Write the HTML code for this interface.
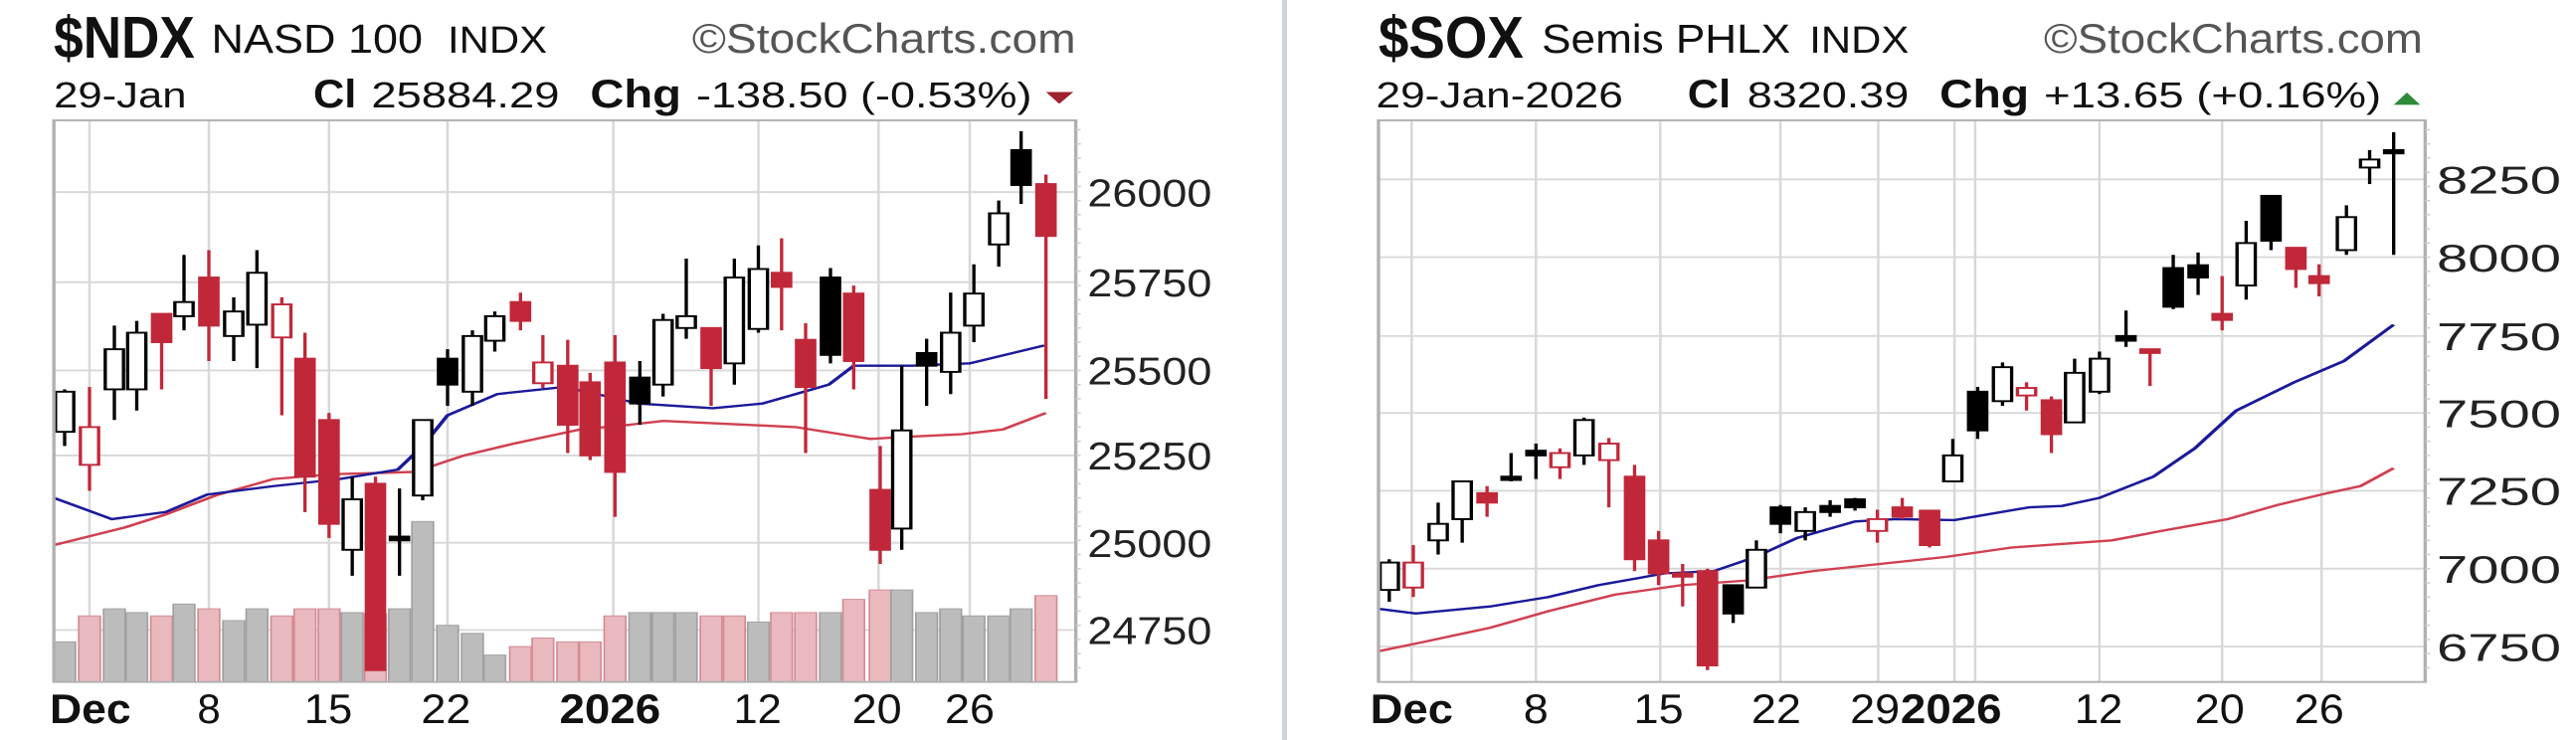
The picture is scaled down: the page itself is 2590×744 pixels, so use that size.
<!DOCTYPE html>
<html><head><meta charset="utf-8"><style>
html,body{margin:0;padding:0;background:#fff;width:2590px;height:744px;overflow:hidden}
svg{position:absolute;top:0}
text{font-family:"Liberation Sans",sans-serif}
</style></head><body>
<svg id="L" style="left:0" width="1300" height="744" viewBox="0 0 1560 1568" preserveAspectRatio="none"></svg>
<div style="position:absolute;left:1289px;top:0;width:5px;height:744px;background:#cfd3da"></div>
<svg id="R" style="left:1296px" width="1294" height="744" viewBox="7 0 1553 1568" preserveAspectRatio="none"></svg>
<script>
const NS="http://www.w3.org/2000/svg";
function el(svg,tag,attrs,txt){const e=document.createElementNS(NS,tag);for(const k in attrs)e.setAttribute(k,attrs[k]);if(txt!==undefined)e.textContent=txt;svg.appendChild(e);return e;}
const RED="#c0283a";
function panel(svg,cfg){
  const [x0,y0,x1,y1]=cfg.box;
  el(svg,"rect",{x:x0,y:y0,width:x1-x0,height:y1-y0,fill:"#fff"});
  cfg.hgrid.forEach(g=>{el(svg,"line",{x1:x0,x2:x1,y1:g[1],y2:g[1],stroke:"#d8d8d8","stroke-width":4});
    el(svg,"text",{x:cfg.lx,y:g[1]+30,"font-size":82,textLength:150,lengthAdjust:"spacingAndGlyphs",fill:"#222"},g[0]);});
  cfg.vgrid.forEach(v=>el(svg,"line",{x1:v,x2:v,y1:y0,y2:y1,stroke:"#d8d8d8","stroke-width":3}));
  cfg.dates.forEach(d=>el(svg,"text",{x:d[1],y:1532,"font-size":88,"font-weight":d[2]?"bold":"normal",textLength:d[3],lengthAdjust:"spacingAndGlyphs",fill:"#111"},d[0]));
  if(cfg.vol){cfg.vol.forEach((v,i)=>{const x=cfg.c[i][0];const r=v[1]=='r';
    el(svg,"rect",{x:x-13,y:v[0],width:26,height:y1-v[0],fill:r?"#e9b9be":"#bcbcbc",stroke:r?"#d48a93":"#a0a0a0","stroke-width":2});});}
  el(svg,"polyline",{points:cfg.red.map(p=>p.join(",")).join(" "),fill:"none",stroke:"#d04050","stroke-width":5});
  el(svg,"polyline",{points:cfg.blue.map(p=>p.join(",")).join(" "),fill:"none",stroke:"#1a1a9a","stroke-width":5});
  cfg.c.forEach(c=>{const [x,wt,wb,bt,bb,s]=c;const col=s[0]=='r'?RED:"#000";const fill=s[1]=='f'?col:"#fff";
    el(svg,"line",{x1:x,x2:x,y1:wt,y2:wb,stroke:col,"stroke-width":4});
    el(svg,"rect",{x:x-11,y:bt,width:22,height:Math.max(bb-bt,7),fill:fill,stroke:col,"stroke-width":4});});
  el(svg,"rect",{x:x0,y:y0,width:x1-x0,height:y1-y0,fill:"none",stroke:"#b0b0b0","stroke-width":4});
  for(let y=y0+20;y<y1;y+=30)el(svg,"line",{x1:x1,x2:x1+6,y1:y,y2:y,stroke:"#ccc","stroke-width":3});
}
function header(svg,h){h.forEach(t=>el(svg,"text",{x:t[1],y:t[2],"font-size":t[3],"font-weight":t[4]?"bold":"normal",textLength:t[5],lengthAdjust:"spacingAndGlyphs",fill:t[6]||"#111"},t[0]));}

const L=document.getElementById("L");
el(L,"rect",{x:0,y:0,width:1560,height:1568,fill:"#fff"});
header(L,[["$NDX",65,122,125,1,170],["NASD 100",255,112,86,0,255],["INDX",540,112,80,0,120],["©StockCharts.com",835,112,88,0,463,"#555"],
["29-Jan",65,228,76,0,160],["Cl",378,228,84,1,52],["25884.29",448,228,76,0,227],["Chg",712,228,84,1,110],["-138.50 (-0.53%)",840,228,76,0,405]]);
el(L,"polygon",{points:"1262,195 1295,195 1278,220",fill:"#a0202e"});
panel(L,{box:[65,255,1298,1445],lx:1312,
 hgrid:[["26000",407],["25750",598],["25500",785],["25250",965],["25000",1150],["24750",1335]],
 vgrid:[108,252,397,540,740,915,1060,1170],
 dates:[["Dec",60,1,98],["8",238,0,28],["15",367,0,58],["22",508,0,60],["2026",675,1,122],["12",885,0,58],["20",1028,0,60],["26",1140,0,60]],
 vol:[[1360,'g'],[1305,'r'],[1290,'g'],[1298,'g'],[1305,'r'],[1280,'g'],[1290,'r'],[1315,'g'],[1290,'g'],[1305,'r'],[1290,'r'],[1290,'r'],[1298,'g'],[1300,'r'],[1290,'g'],[1105,'g'],[1325,'g'],[1342,'g'],[1388,'g'],[1370,'r'],[1352,'r'],[1360,'r'],[1360,'r'],[1305,'r'],[1298,'g'],[1298,'g'],[1298,'g'],[1305,'r'],[1305,'r'],[1318,'g'],[1298,'r'],[1298,'r'],[1298,'g'],[1270,'r'],[1250,'r'],[1250,'g'],[1298,'g'],[1290,'g'],[1305,'g'],[1305,'g'],[1290,'g'],[1262,'r']],
 c:[[78,825,945,830,915,'wh'],[108,820,1040,905,985,'rh'],[138,690,890,740,825,'wh'],[165,680,870,705,825,'wh'],[195,665,825,665,725,'rf'],[222,540,700,640,670,'wh'],[252,530,765,588,690,'rf'],[282,630,765,660,712,'wh'],[310,530,780,578,688,'wh'],[340,630,880,645,715,'rh'],[368,705,1085,760,1010,'rf'],[397,875,1140,890,1110,'rf'],[425,1010,1220,1058,1165,'wh'],[453,1010,1420,1025,1420,'rf'],[482,1035,1220,1137,1145,'bf'],[510,890,1060,890,1050,'wh'],[540,740,860,760,815,'bf'],[570,700,860,712,830,'wh'],[597,660,745,670,722,'wh'],[628,620,700,640,680,'rf'],[655,710,822,768,812,'rh'],[685,720,960,775,900,'rf'],[712,790,975,810,965,'rf'],[742,710,1095,768,1000,'rf'],[772,765,900,800,855,'bf'],[800,665,840,678,815,'wh'],[828,548,718,670,695,'wh'],[858,695,860,695,780,'rf'],[886,548,815,588,770,'wh'],[915,520,705,570,697,'wh'],[943,505,700,578,608,'rf'],[972,685,960,720,820,'rf'],[1002,568,770,588,752,'bf'],[1030,605,825,622,765,'rf'],[1062,945,1195,1038,1165,'rf'],[1088,775,1165,912,1120,'wh'],[1118,718,860,748,775,'bf'],[1147,620,835,705,788,'wh'],[1175,560,725,622,690,'wh'],[1205,425,565,452,518,'wh'],[1232,278,432,318,392,'bf'],[1262,370,845,390,500,'rf']],
 blue:[[65,1055],[135,1100],[200,1085],[250,1048],[330,1030],[410,1015],[480,995],[510,945],[540,880],[600,835],[680,820],[720,835],[770,855],[860,865],[920,855],[1000,815],[1030,775],[1100,775],[1170,770],[1260,732]],
 red:[[65,1155],[150,1118],[200,1090],[260,1050],[330,1015],[400,1005],[500,1000],[560,965],[620,940],[700,910],[760,900],[800,892],[900,900],[960,905],[1050,930],[1100,925],[1160,920],[1210,910],[1262,875]]});

const R=document.getElementById("R");
el(R,"rect",{x:0,y:0,width:1560,height:1568,fill:"#fff"});
header(R,[["$SOX",115,122,125,1,175],["Semis PHLX",312,112,86,0,300],["INDX",635,112,80,0,120],["©StockCharts.com",918,112,88,0,457,"#555"],
["29-Jan-2026",112,228,76,0,298],["Cl",488,228,84,1,52],["8320.39",560,228,76,0,195],["Chg",792,228,84,1,108],["+13.65 (+0.16%)",918,228,76,0,407]]);
el(R,"polygon",{points:"1340,222 1372,222 1356,196",fill:"#2e8b3a"});
panel(R,{box:[115,255,1378,1445],lx:1392,
 hgrid:[["8250",380],["8000",545],["7750",712],["7500",875],["7250",1040],["7000",1205],["6750",1370]],
 vgrid:[155,305,455,600,718,810,835,985,1133,1253],
 dates:[["Dec",105,1,100],["8",290,0,30],["15",423,0,60],["22",565,0,60],["29",684,0,60],["2026",745,1,122],["12",955,0,58],["20",1100,0,60],["26",1220,0,60]],
 c:[[128,1185,1275,1192,1250,'wh'],[157,1155,1265,1192,1245,'rh'],[187,1065,1175,1110,1145,'wh'],[216,1020,1150,1020,1100,'wh'],[246,1030,1095,1045,1065,'rf'],[275,960,1020,1010,1015,'bf'],[305,940,1015,955,965,'bf'],[334,950,1015,960,990,'rh'],[363,885,985,890,965,'wh'],[393,928,1075,940,975,'rh'],[424,985,1210,1010,1185,'rf'],[453,1125,1240,1145,1215,'rf'],[482,1195,1285,1215,1222,'rf'],[512,1205,1420,1210,1410,'rf'],[543,1240,1320,1240,1300,'bf'],[571,1145,1245,1165,1245,'wh'],[600,1070,1130,1075,1110,'bf'],[630,1075,1145,1085,1125,'wh'],[660,1060,1095,1072,1085,'bf'],[690,1055,1082,1058,1075,'bf'],[717,1080,1150,1100,1125,'rh'],[747,1055,1100,1075,1095,'rf'],[780,1082,1160,1082,1155,'rf'],[808,930,1020,965,1020,'wh'],[838,820,930,830,912,'bf'],[868,768,860,778,850,'wh'],[897,810,870,822,838,'rh'],[927,840,960,848,920,'rf'],[955,760,895,790,895,'wh'],[985,745,835,760,830,'wh'],[1017,658,735,712,722,'bf'],[1046,740,818,740,748,'rf'],[1074,540,655,568,650,'bf'],[1104,535,625,562,588,'bf'],[1133,585,700,665,678,'rf'],[1162,468,635,515,605,'wh'],[1192,415,530,415,510,'bf'],[1222,525,610,525,570,'rf'],[1250,560,628,585,600,'rf'],[1283,435,540,460,530,'wh'],[1311,318,390,338,355,'wh'],[1340,280,540,318,325,'bf']],
 blue:[[115,1290],[160,1300],[250,1285],[320,1265],[380,1240],[460,1215],[520,1210],[570,1180],[620,1140],[690,1105],[740,1100],[810,1102],[900,1075],[940,1072],[985,1055],[1050,1010],[1100,950],[1150,870],[1220,810],[1280,765],[1340,688]],
 red:[[115,1380],[170,1360],[250,1330],[320,1295],[400,1260],[480,1240],[560,1230],[640,1210],[720,1195],[800,1180],[880,1160],[960,1150],[1000,1145],[1060,1125],[1140,1100],[1200,1070],[1260,1045],[1300,1030],[1340,992]]});
</script>
</body></html>
